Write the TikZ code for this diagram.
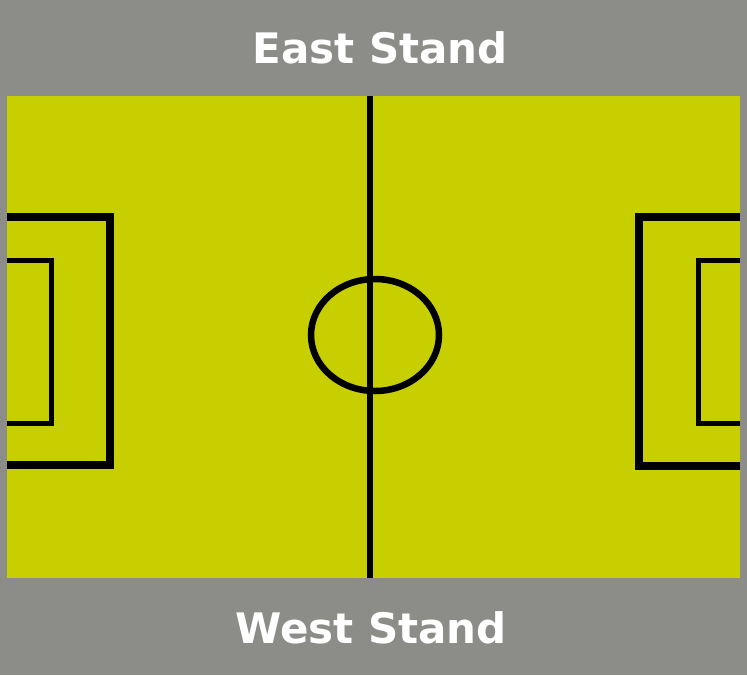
\documentclass[tikz,border=0pt]{standalone}
\usepackage{fontspec}
\setmainfont{DejaVu Sans}
\definecolor{standgray}{RGB}{140,140,136}
\definecolor{pitchyellow}{RGB}{200,207,0}
\tikzset{
  standlabel/.style={text=white, font=\fontsize{42}{50}\selectfont\bfseries, anchor=base, inner sep=0pt},
  pitchline/.style={draw=black, line width=6.5pt},
  boxline/.style={draw=black, line width=8pt},
  goalline/.style={draw=black, line width=5pt},
}
\begin{document}
\begin{tikzpicture}[x=1pt,y=-1pt]
  \fill[standgray] (0,0) rectangle (747,675);
  \useasboundingbox (0,0) rectangle (747,675);
  \fill[pitchyellow] (7,96) rectangle (740,578);
  % centre line and circle
  \coordinate (ctop) at (370,96);
  \coordinate (cbot) at (370,578);
  \draw[pitchline] (ctop) -- (cbot);
  \draw[pitchline] (375,335) ellipse [x radius=64, y radius=56];
  % left boxes
  \draw[boxline] (7,217) -- (110,217) -- (110,465) -- (7,465);
  \draw[goalline] (7,260) -- (51,260) -- (51,423) -- (7,423);
  % right boxes
  \draw[boxline] (740,217) -- (639,217) -- (639,466) -- (740,466);
  \draw[goalline] (740,260) -- (698,260) -- (698,423) -- (740,423);
  % labels
  \node[standlabel] (east) at (380,63) {East Stand};
  \node[standlabel] (west) at (371,643) {West Stand};
\end{tikzpicture}
\end{document}
